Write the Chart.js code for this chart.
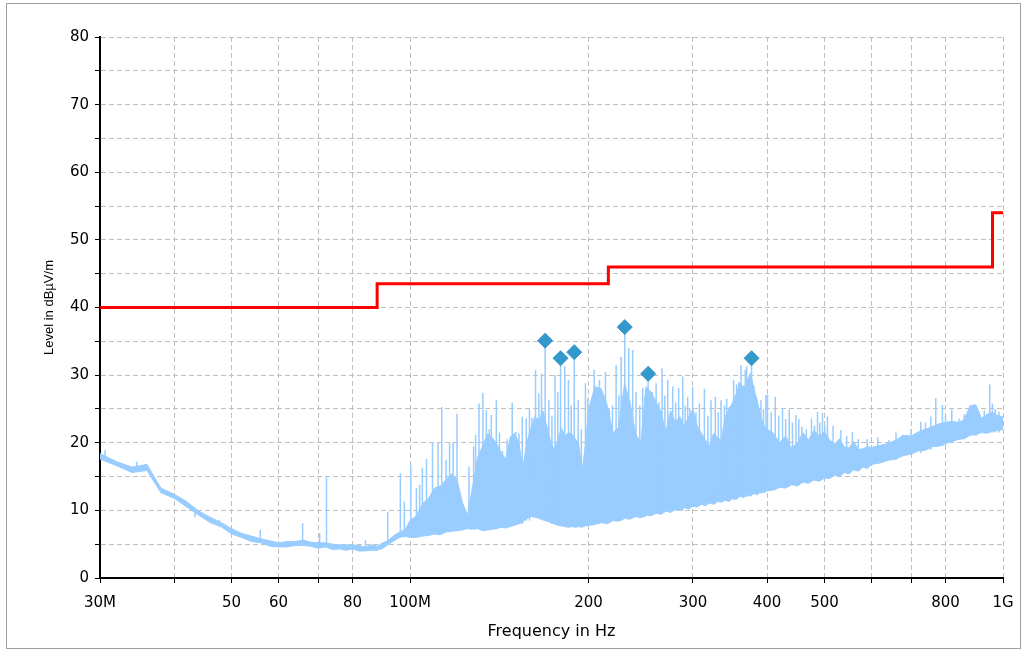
<!DOCTYPE html>
<html>
<head>
<meta charset="utf-8">
<script src="https://cdn.jsdelivr.net/npm/chart.js@4.4.1/dist/chart.umd.min.js"></script>
<style>
  html, body { margin: 0; padding: 0; background: #fff; }
  #wrap { position: relative; width: 1028px; height: 651px; }
  #frame { position: absolute; left: 6px; top: 3px; width: 1015px; height: 646px; box-sizing: border-box; border: 1px solid #a0a0a0; }
  #c { position: absolute; left: 0; top: 0; }
</style>
</head>
<body>
<div id="wrap"><div id="frame"></div><canvas id="c" width="1028" height="651"></canvas></div>
<script>
// x axis ticks (MHz) and their labels
const xTicks = [30, 40, 50, 60, 70, 80, 100, 200, 300, 400, 500, 600, 700, 800, 1000];
const xTickLabels = ['30M', '', '50', '60', '', '80', '100M', '200', '300', '400', '500', '', '', '800', '1G'];

// limit line (dBµV/m), steps at these frequencies
const limitFreq = [30, 88, 216, 960, 1000];
const limitLevel = [40, 43.5, 46, 54, 54];

// final measurement markers
const markerFreq = [169.0, 179.4, 189.2, 230.2, 252.1, 376.7];
const markerLevel = [35.1, 32.5, 33.4, 37.1, 30.2, 32.5];

// preview scan envelope: upper edge and lower edge of the trace
const bodyFreq = [
  30, 32, 34, 36, 38, 40, 42, 44, 46, 48, 50, 52, 54, 56, 58, 60, 62, 64, 66, 68, 70, 72, 74, 76, 78, 80, 82, 84, 86, 88, 90, 92, 94, 96, 98, 100,
  102.5, 105, 107.5, 110, 112.5, 115, 117.5, 120, 122.5, 125, 127.5, 130, 132.5, 135, 137.5, 140, 142.5, 145, 147.5, 150,
  152.5, 155, 157.5, 160, 162.5, 165, 167.5, 170, 172.5, 175, 177.5, 180, 182.5, 185, 187.5, 190, 192.5, 195, 197.5, 200,
  205, 210, 215, 220, 225, 230, 235, 240, 245, 250, 255, 260, 265, 270, 275, 280, 285, 290, 295, 300,
  305, 310, 315, 320, 325, 330, 335, 340, 345, 350, 355, 360, 365, 370, 375, 380, 385, 390, 395, 400,
  410, 420, 430, 440, 450, 460, 470, 480, 490, 500, 510, 520, 530, 540, 550, 560, 570, 580, 590, 600,
  620, 640, 660, 680, 700, 720, 740, 760, 780, 800, 820, 840, 860, 880, 900, 920, 940, 960, 980, 1000
];
const bodyTop = [
  18.4, 17.2, 16.4, 16.8, 13.3, 12.4, 11.3, 9.9, 9.0, 8.2, 7.3, 6.6, 6.2, 5.8, 5.5, 5.2, 5.4, 5.4, 5.6, 5.3, 5.2, 5.2, 5.0, 4.9, 4.9, 4.9, 4.8, 4.6, 4.9, 4.7, 5.2, 5.6, 6.3, 6.8, 7.1, 8.5,
  9.2, 11.0, 11.8, 13.3, 13.6, 14.5, 15.4, 14.6, 11.2, 9.3, 13.5, 17.8, 19.5, 21.3, 20.8, 19.8, 18.5, 17.6, 20.8, 21.4,
  20.0, 16.4, 20.1, 22.3, 23.9, 23.3, 24.8, 22.5, 20.3, 18.9, 20.5, 22.2, 21.0, 21.5, 21.3, 20.6, 19.9, 15.8, 19.5, 24.9,
  28.3, 28.0, 25.6, 21.4, 22.4, 28.8, 26.0, 21.3, 20.0, 28.3, 27.5, 26.0, 24.6, 21.6, 24.8, 23.0, 23.9, 22.4, 23.9, 24.9,
  22.5, 21.4, 20.4, 19.5, 21.4, 20.8, 20.4, 23.9, 24.9, 26.0, 27.3, 28.8, 28.0, 29.0, 30.3, 28.0, 26.3, 24.0, 22.6, 22.0,
  21.4, 20.0, 21.0, 19.2, 20.0, 21.5, 20.4, 21.8, 21.0, 21.6, 20.4, 19.8, 20.6, 19.4, 19.2, 20.2, 19.0, 19.1, 19.4, 19.3,
  19.6, 19.9, 20.4, 21.1, 21.0, 21.6, 22.0, 22.4, 22.8, 23.0, 23.2, 23.0, 23.4, 25.5, 25.6, 23.6, 24.2, 24.5, 24.0, 23.8
];
const bodyFloor = [
  17.6, 16.6, 15.6, 15.9, 12.6, 11.8, 10.5, 9.3, 8.2, 7.6, 6.5, 6.0, 5.4, 5.2, 4.7, 4.6, 4.6, 4.8, 4.8, 4.7, 4.4, 4.6, 4.2, 4.3, 4.1, 4.3, 4.0, 4.0, 4.1, 4.1, 4.4, 5.0, 5.5, 6.0, 6.2, 6.0,
  6.0, 6.2, 6.3, 6.5, 6.4, 6.8, 6.9, 7.0, 7.1, 7.3, 7.2, 7.3, 7.0, 7.1, 7.2, 7.3, 7.5, 7.4, 7.6, 7.8,
  8.0, 8.3, 8.8, 9.1, 9.0, 8.8, 8.6, 8.4, 8.2, 8.0, 7.8, 7.7, 7.6, 7.5, 7.6, 7.5, 7.6, 7.5, 7.7, 7.8,
  7.9, 8.2, 8.0, 8.5, 8.4, 8.8, 8.7, 9.1, 8.9, 9.3, 9.2, 9.6, 9.4, 9.9, 9.7, 10.1, 10.0, 10.4, 10.2, 10.6,
  10.5, 10.9, 10.7, 11.1, 10.9, 11.3, 11.2, 11.5, 11.3, 11.8, 11.6, 12.1, 11.9, 12.3, 12.1, 12.5, 12.3, 12.7, 12.6, 12.9,
  13.0, 13.4, 13.3, 13.8, 13.6, 14.2, 14.0, 14.5, 14.3, 14.8, 14.7, 15.2, 15.0, 15.6, 15.4, 16.0, 15.8, 16.4, 16.2, 16.8,
  17.0, 17.4, 17.6, 18.1, 18.3, 18.8, 18.9, 19.4, 19.5, 19.9, 20.1, 20.5, 20.6, 21.1, 21.2, 21.5, 21.4, 21.7, 21.8, 22.0
];

// tall narrow spikes in the scan
const spikeFreq = [
  34.6, 65.9, 72.3, 91.7, 96.3, 100.3, 102.5, 104.9, 106.6, 109.1, 111.5, 113.1, 116.6, 120.0, 125.7, 129.0, 130.7, 132.7, 134.5, 137.1,
  139.8, 143.2, 148.7, 150.7, 152.6, 154.6, 157.0, 160.6, 162.8, 164.9, 166.6, 169.0, 171.4, 175.6, 179.4, 182.4, 185.0, 189.2, 192.1, 197.6,
  204.4, 208.7, 213.6, 216.9, 222.6, 227.0, 230.2, 233.8, 237.4, 246.8, 252.1, 260.0, 266.1, 272.0, 277.3, 283.8, 288.3, 293.9, 299.6,
  307.6, 313.6, 321.8, 327.2, 334.6, 345.5, 351.3, 355.4, 361.5, 367.6, 369.5, 376.7, 383.2, 387.1, 390.7, 398.3, 400.8,
  413.0, 424.8, 436.0, 447.5, 458.0, 475.4, 486.6, 496.1, 505.8, 532.8, 557.3, 642.6, 676.7, 726.8, 755.5, 770.3, 790.3, 819.6, 843.1,
  949.8, 959.4, 984.7
];
const spikeTop = [
  17.2, 8.1, 14.9, 9.8, 15.5, 16.7, 13.3, 16.3, 17.6, 20.0, 20.0, 25.3, 20.0, 24.3, 16.5, 21.2, 25.8, 27.4, 24.8, 24.1,
  26.3, 18.8, 25.9, 21.6, 21.4, 23.9, 23.6, 23.7, 30.8, 27.3, 30.2, 35.1, 26.3, 30.0, 32.5, 31.3, 29.3, 33.4, 26.3, 28.8,
  30.8, 29.3, 30.5, 24.9, 31.5, 32.7, 37.1, 34.0, 33.7, 28.1, 30.2, 28.8, 31.0, 29.3, 28.3, 28.1, 29.8, 26.8, 28.2,
  25.8, 28.0, 26.3, 26.8, 26.3, 25.3, 29.3, 28.6, 31.5, 30.8, 31.3, 32.5, 26.8, 24.6, 26.3, 27.1, 27.1,
  26.8, 25.1, 24.9, 24.1, 22.4, 23.6, 24.6, 24.4, 23.9, 21.9, 21.6, 20.4, 21.2, 23.1, 23.9, 26.6, 25.6, 24.9, 23.6,
  28.6, 25.8, 24.6
];
const spikeBase = [
  16.0, 5.0, 4.8, 5.0, 6.0, 6.5, 7.0, 7.0, 7.0, 7.0, 7.0, 7.0, 7.0, 7.0, 7.5, 7.5, 7.5, 7.5, 7.5, 7.5,
  7.5, 7.5, 8.0, 8.0, 8.0, 8.0, 8.5, 9.0, 9.0, 9.0, 9.0, 9.0, 8.5, 8.0, 8.0, 8.0, 8.0, 8.0, 8.0, 8.0,
  8.0, 8.0, 8.5, 8.5, 8.5, 8.5, 9.0, 9.0, 9.0, 9.0, 9.5, 9.5, 9.5, 10.0, 10.0, 10.0, 10.0, 10.5, 10.5,
  11.0, 11.0, 11.0, 11.0, 11.5, 11.5, 11.5, 12.0, 12.0, 12.0, 12.0, 12.5, 12.5, 12.5, 12.5, 13.0, 13.0,
  13.0, 13.5, 13.5, 14.0, 14.0, 14.5, 14.5, 14.5, 15.0, 15.5, 16.0, 17.5, 18.0, 18.5, 19.0, 19.5, 19.5, 20.0, 20.5,
  21.5, 21.5, 21.5
];

// smaller noise spikes that give the trace its texture
const minorFreq = [
  30.6, 43.4, 47.7, 55.9, 70.4, 84.1, 97.8, 103.8, 115.0, 118.2, 128.0, 136.0, 141.5, 145.8, 159.0, 173.5, 177.5, 187.0, 194.5, 199.5,
  206.5, 211.0, 219.5, 225.0, 240.5, 244.0, 249.0, 256.0, 263.0, 269.0, 280.5, 291.0, 296.5, 303.5, 318.0, 331.0, 339.0, 342.0,
  358.5, 364.5, 372.5, 380.0, 394.5, 406.5, 418.5, 430.0, 441.5, 452.5, 466.0, 481.0, 491.0, 500.5, 517.0, 545.0, 570.0, 590.0,
  615.0, 660.0, 700.0, 740.0, 800.0, 860.0, 900.0, 930.0, 970.0
];
const minorTop = [
  18.9, 10.4, 8.6, 7.1, 6.6, 5.6, 11.3, 13.8, 17.5, 20.0, 19.5, 22.0, 21.5, 20.5, 25.0, 24.0, 27.5, 25.5, 22.0, 26.5,
  27.0, 26.0, 25.5, 27.0, 27.5, 25.5, 27.0, 27.5, 26.0, 27.0, 26.0, 25.5, 25.0, 24.5, 24.0, 24.5, 25.5, 26.5,
  29.0, 28.5, 29.5, 28.5, 25.0, 24.5, 24.0, 23.5, 23.0, 23.5, 22.0, 22.5, 23.0, 22.5, 22.5, 21.0, 20.5, 20.5,
  20.8, 21.5, 22.0, 23.0, 24.0, 24.2, 25.0, 24.8, 25.0
];
const minorBase = [
  17.5, 9.0, 7.5, 5.2, 4.6, 4.0, 6.0, 7.0, 7.0, 7.0, 7.5, 7.5, 7.5, 7.5, 8.5, 8.0, 8.0, 8.0, 8.0, 8.0,
  8.0, 8.5, 8.5, 8.5, 9.0, 9.0, 9.0, 9.5, 9.5, 10.0, 10.0, 10.5, 10.5, 11.0, 11.0, 11.5, 11.5, 11.5,
  12.0, 12.0, 12.5, 12.5, 13.0, 13.0, 13.5, 13.5, 14.0, 14.0, 14.0, 14.5, 14.5, 15.0, 15.0, 15.5, 16.0, 16.5,
  17.0, 17.5, 18.5, 19.0, 19.5, 20.5, 21.0, 21.5, 21.5
];

Chart.defaults.font.family = "'DejaVu Sans', sans-serif";
Chart.defaults.color = '#000';

const traceColor = '#99ccff';

function verticalLines(freqs, tops, bases) {
  const out = [];
  freqs.forEach((f, i) => {
    out.push({ x: f, y: bases[i] }, { x: f, y: tops[i] }, { x: f, y: null });
  });
  return out;
}

const gridOpts = { color: '#c0c0c0', lineWidth: 1, tickColor: '#000', tickLength: 5, tickWidth: 1 };
const borderOpts = { color: '#000', width: 2, dash: [5, 3] };

new Chart(document.getElementById('c'), {
  type: 'line',
  data: {
    datasets: [
      {
        label: 'Final',
        data: markerFreq.map((f, i) => ({ x: f, y: markerLevel[i] })),
        showLine: false,
        pointStyle: 'rectRot',
        pointRadius: 7.5,
        pointBackgroundColor: '#3399cc',
        pointBorderColor: '#3399cc',
        pointBorderWidth: 1,
        order: 0
      },
      {
        label: 'Limit',
        data: limitFreq.map((f, i) => ({ x: f, y: limitLevel[i] })),
        borderColor: '#ff0000',
        borderWidth: 3,
        stepped: 'before',
        pointRadius: 0,
        order: 1
      },
      {
        label: 'Spikes',
        data: verticalLines(spikeFreq, spikeTop, spikeBase),
        borderColor: traceColor,
        borderWidth: 1.5,
        pointRadius: 0,
        spanGaps: false,
        order: 2
      },
      {
        label: 'Noise',
        data: verticalLines(minorFreq, minorTop, minorBase),
        borderColor: traceColor,
        borderWidth: 1.5,
        pointRadius: 0,
        spanGaps: false,
        order: 3
      },
      {
        label: 'Peak',
        data: bodyFreq.map((f, i) => ({ x: f, y: bodyTop[i] })),
        borderColor: traceColor,
        backgroundColor: traceColor,
        borderWidth: 1,
        pointRadius: 0,
        fill: '+1',
        order: 4
      },
      {
        label: 'Floor',
        data: bodyFreq.map((f, i) => ({ x: f, y: bodyFloor[i] })),
        borderColor: traceColor,
        borderWidth: 1,
        pointRadius: 0,
        fill: false,
        order: 5
      }
    ]
  },
  options: {
    responsive: false,
    animation: false,
    devicePixelRatio: 1,
    layout: { padding: { left: 38, right: 25, top: 37, bottom: 6 } },
    plugins: { legend: { display: false }, tooltip: { enabled: false } },
    elements: { line: { tension: 0 } },
    scales: {
      x: {
        type: 'logarithmic',
        min: 30,
        max: 1000,
        offset: false,
        afterBuildTicks: axis => { axis.ticks = xTicks.map(v => ({ value: v })); },
        afterFit: axis => { axis.height = 67; },
        ticks: {
          autoSkip: false,
          maxRotation: 0,
          padding: 11,
          font: { size: 15 },
          callback: v => {
            const i = xTicks.indexOf(v);
            return i >= 0 ? xTickLabels[i] : '';
          }
        },
        grid: gridOpts,
        border: borderOpts,
        title: { display: true, text: 'Frequency in Hz', font: { size: 16 }, padding: { top: 4, bottom: 4 } }
      },
      y: {
        min: 0,
        max: 80,
        afterFit: axis => { axis.width = 62; },
        ticks: {
          stepSize: 5,
          padding: 6,
          font: { size: 15 },
          callback: v => (v % 10 === 0 ? v : '')
        },
        grid: gridOpts,
        border: borderOpts,
        title: { display: true, text: 'Level in dBµV/m', font: { family: "'Liberation Sans', sans-serif", size: 13 }, padding: { top: 4, bottom: 4 } }
      }
    }
  }
});
</script>
</body>
</html>
